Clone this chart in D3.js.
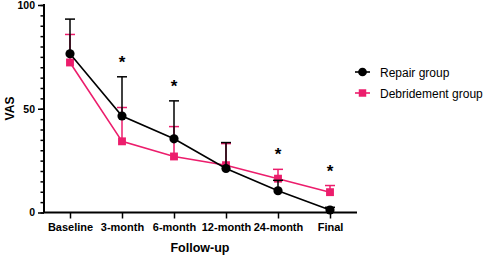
<!DOCTYPE html>
<html><head><meta charset="utf-8">
<script src="https://cdn.jsdelivr.net/npm/d3@7"></script>
<style>
body{margin:0;background:#fff;}
svg{display:block;font-family:"Liberation Sans",Arial,sans-serif;}
</style></head>
<body>
<svg id="chart" width="486" height="255"></svg>
<script>
const categories = ["Baseline","3-month","6-month","12-month","24-month","Final"];
const repairMean = [76.5, 46.5, 35.5, 21.2, 10.5, 1.2];
const repairUpper = [93.2, 65.4, 53.8, 33.7, 15.5, 2.5];
const debrMean = [72.3, 34.3, 27.0, 22.8, 16.3, 9.8];
const debrUpper = [85.8, 50.6, 41.4, 33.2, 20.8, 13.0];
const significant = [false, true, true, false, true, true];
const yTicks = [0, 50, 100];
const seriesNames = ["Repair group", "Debridement group"];

const BLACK = "#000", PINK = "#EC1D6C";
const svg = d3.select("#chart");
const x = d3.scalePoint().domain(categories).range([44, 356]).padding(0.5);
const y = d3.scaleLinear().domain([0, 100]).range([212.5, 5]);

// axes
const gy = svg.append("g").attr("transform","translate(44,0)");
gy.call(d3.axisLeft(y).tickValues(d3.range(0,101,5)).tickSize(3.5).tickFormat(""));
gy.call(g=>g.selectAll(".tick line").attr("stroke-width",1.5));
const gyMajor = svg.append("g").attr("transform","translate(44,0)")
  .call(d3.axisLeft(y).tickValues(yTicks).tickSize(6).tickPadding(3));
gyMajor.select(".domain").remove();
gyMajor.selectAll(".tick line").attr("stroke-width",1.5);
gyMajor.selectAll(".tick text").attr("font-size",10.5).attr("font-weight","bold").attr("fill","#000")
  .attr("font-family","Liberation Sans, Arial, sans-serif");
gy.select(".domain").attr("stroke-width",2).attr("d","M0,212.5V4");

const gx = svg.append("g").attr("transform","translate(0,212.5)")
  .call(d3.axisBottom(x).tickSize(6).tickPadding(5).tickSizeOuter(0));
gx.select(".domain").attr("stroke-width",2).attr("d","M43,0H357");
gx.selectAll(".tick line").attr("stroke-width",1.5);
gx.selectAll(".tick text").attr("font-size",11).attr("font-weight","bold").attr("fill","#000")
  .attr("font-family","Liberation Sans, Arial, sans-serif");

svg.append("text").attr("x",200).attr("y",252).attr("text-anchor","middle")
  .attr("font-size",12.5).attr("font-weight","bold").text("Follow-up");
svg.append("text").attr("transform","translate(14,108.5) rotate(-90)").attr("text-anchor","middle")
  .attr("font-size",12).attr("font-weight","bold").text("VAS");

function drawSeries(mean, upper, color, shape){
  const g = svg.append("g");
  g.append("path").datum(mean)
    .attr("d", d3.line().x((d,i)=>x(categories[i])).y(d=>y(d)))
    .attr("fill","none").attr("stroke",color).attr("stroke-width",1.6);
  categories.forEach((c,i)=>{
    const cx = x(c);
    g.append("line").attr("x1",cx).attr("x2",cx).attr("y1",y(mean[i])).attr("y2",y(upper[i]))
      .attr("stroke",color).attr("stroke-width",1.5);
    g.append("line").attr("x1",cx-5).attr("x2",cx+5).attr("y1",y(upper[i])).attr("y2",y(upper[i]))
      .attr("stroke",color).attr("stroke-width",1.5);
  });
  g.selectAll(".m").data(mean).enter().append("path")
    .attr("transform",(d,i)=>`translate(${x(categories[i])},${y(d)})`)
    .attr("d", d3.symbol().type(shape).size(shape===d3.symbolCircle?66:62))
    .attr("fill",color);
}
drawSeries(debrMean, debrUpper, PINK, d3.symbolSquare);
drawSeries(repairMean, repairUpper, BLACK, d3.symbolCircle);

// significance asterisks
categories.forEach((c,i)=>{
  if(!significant[i]) return;
  const top = Math.max(repairUpper[i], debrUpper[i]);
  svg.append("text").attr("x",x(c)).attr("y",y(top)-9).attr("text-anchor","middle")
    .attr("font-size",17).attr("font-weight","bold")
    .attr("font-family","Liberation Sans, Arial, sans-serif").text("*");
});

// legend
const legend = svg.append("g");
[[BLACK, d3.symbolCircle],[PINK, d3.symbolSquare]].forEach(([col,shape],i)=>{
  const ly = 72 + i*21;
  legend.append("line").attr("x1",355).attr("x2",370).attr("y1",ly).attr("y2",ly)
    .attr("stroke",col).attr("stroke-width",1.6);
  legend.append("path").attr("transform",`translate(362.5,${ly})`)
    .attr("d", d3.symbol().type(shape).size(shape===d3.symbolCircle?60:56)).attr("fill",col);
  legend.append("text").attr("x",380).attr("y",ly+4.5).attr("font-size",12).text(seriesNames[i]);
});
</script>
</body></html>
